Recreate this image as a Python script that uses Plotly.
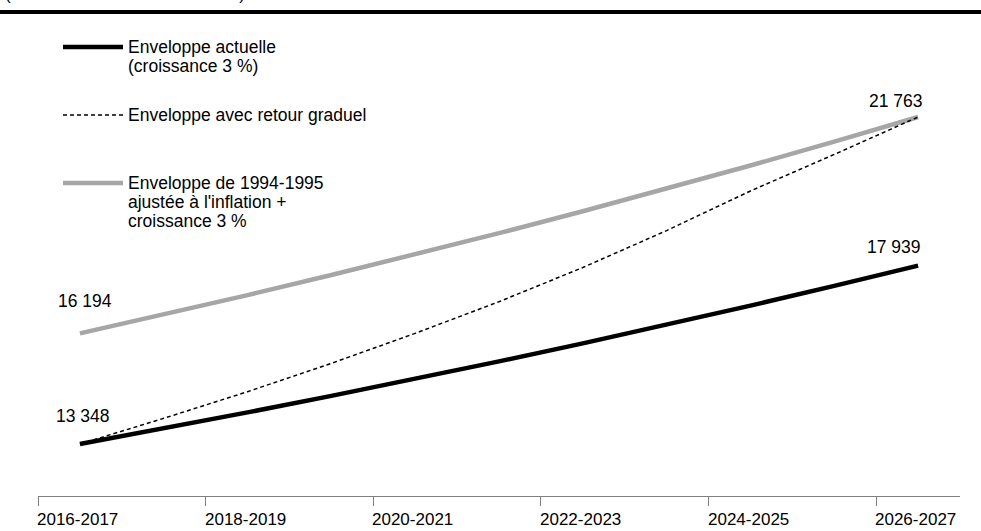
import plotly.graph_objects as go

# data (millions $)
periodes = ["2016-2017", "2017-2018", "2018-2019", "2019-2020", "2020-2021", "2021-2022",
            "2022-2023", "2023-2024", "2024-2025", "2025-2026", "2026-2027"]
enveloppe_actuelle = [13348, 13748, 14161, 14586, 15023, 15474, 15938, 16416, 16909, 17416, 17939]
enveloppe_retour = [13348, 14009, 14694, 15424, 16196, 17010, 17890, 18840, 19860, 20800, 21763]
enveloppe_1994 = [16194, 16680, 17180, 17696, 18227, 18773, 19337, 19917, 20514, 21130, 21763]
tick_labels = ["2016-2017", "2018-2019", "2020-2021", "2022-2023", "2024-2025", "2026-2027"]
tick_pos = [-0.5, 1.5, 3.5, 5.5, 7.5, 9.5]

W, H = 981, 531
M_L, M_R, M_T, M_B = 38, 21, 30, 35
PW, PH = W - M_L - M_R, H - M_T - M_B
FONT = "Arial, Liberation Sans, sans-serif"
GRAY = "#a6a6a6"
FS = 17.5

def px(x):
    return (x - M_L) / PW

def py(y):
    return (H - M_B - y) / PH

def fmt(v):
    return f"{v:,}".replace(",", " ")

idx = list(range(len(periodes)))

fig = go.Figure()
fig.add_trace(go.Scatter(x=idx, y=enveloppe_1994, mode="lines",
                         line=dict(color=GRAY, width=4.5), hoverinfo="skip"))
fig.add_trace(go.Scatter(x=idx, y=enveloppe_actuelle, mode="lines",
                         line=dict(color="black", width=4.5), hoverinfo="skip"))
fig.add_trace(go.Scatter(x=idx, y=enveloppe_retour, mode="lines",
                         line=dict(color="black", width=1.5, dash="4px,3px"), hoverinfo="skip"))

# value labels at the ends
for x, v, xs, ys in [(0, enveloppe_1994[0], 5, 32), (0, enveloppe_actuelle[0], 3, 28),
                     (10, enveloppe_1994[-1], -22, 16), (10, enveloppe_actuelle[-1], -24, 19)]:
    fig.add_annotation(x=x, y=v, text=fmt(v), showarrow=False, xshift=xs, yshift=ys,
                       font=dict(size=FS, color="black", family=FONT))

# hand-made legend
legend = [
    (47, dict(color="black", width=4.5), ["Enveloppe actuelle", "(croissance 3 %)"]),
    (115, dict(color="black", width=1.5, dash="4px,3px"), ["Enveloppe avec retour graduel"]),
    (183, dict(color=GRAY, width=4.5), ["Enveloppe de 1994-1995", "ajustée à l'inflation +",
                                        "croissance 3 %"]),
]
for y0, ln, lines in legend:
    fig.add_shape(type="line", xref="paper", yref="paper", x0=px(63), x1=px(123),
                  y0=py(y0), y1=py(y0), line=ln)
    for k, t in enumerate(lines):
        fig.add_annotation(xref="paper", yref="paper", x=px(126), y=py(y0 + 19 * k),
                           xanchor="left", yanchor="middle", text=t, showarrow=False,
                           font=dict(size=FS, color="black", family=FONT))

# category labels, left-aligned on the tick marks
for xv, t in zip(tick_pos, tick_labels):
    fig.add_annotation(x=xv, xref="x", yref="paper", y=py(519), xanchor="left",
                       yanchor="middle", xshift=-3, text=t, showarrow=False,
                       font=dict(size=17, color="black", family=FONT))

# heavy rule and cut title at top
fig.add_shape(type="line", xref="paper", yref="paper", x0=px(0), x1=px(W),
              y0=py(12), y1=py(12), line=dict(color="black", width=4))
fig.add_annotation(xref="paper", yref="paper", x=px(3), y=py(5), xanchor="left",
                   yanchor="bottom", yshift=-1, text="(en millions de dollars courants)",
                   showarrow=False, font=dict(size=17, color="black", family=FONT))

fig.update_layout(
    width=W, height=H,
    margin=dict(l=M_L, r=M_R, t=M_T, b=M_B),
    paper_bgcolor="white", plot_bgcolor="white",
    showlegend=False,
    font=dict(family=FONT, size=FS, color="black"),
    xaxis=dict(range=[-0.5, 10.5], showgrid=False, zeroline=False,
               showline=True, linecolor="#7f7f7f", linewidth=1,
               ticks="outside", ticklen=9, tickcolor="#7f7f7f",
               tickvals=tick_pos, showticklabels=False),
    yaxis=dict(range=[12010, 24002], visible=False),
)

fig.write_html("out.html", config={"displayModeBar": False},
               post_script="document.body.style.margin='0';")
